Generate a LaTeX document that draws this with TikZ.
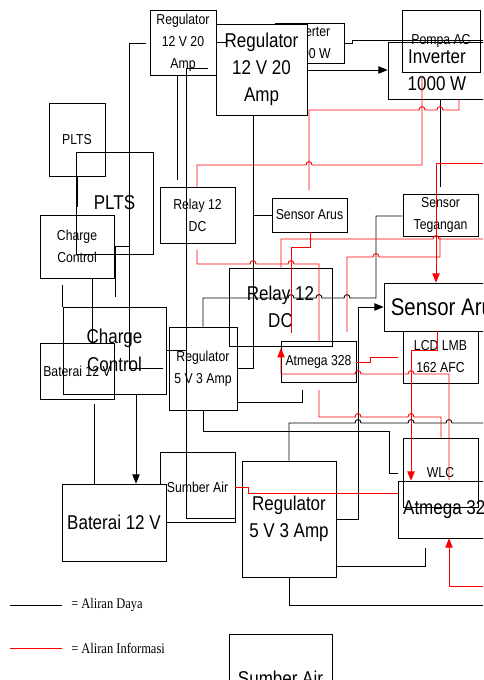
\documentclass[tikz,border=0pt]{standalone}
\usepackage{fontspec}
\setmainfont{Liberation Serif}[FakeStretch=0.85]
\newfontfamily\arialn{Liberation Sans}[FakeStretch=0.85]
\usetikzlibrary{arrows.meta}

\tikzset{
  kecil/.style={font=\arialn\fontsize{10.8}{16.5}\selectfont},
  besar/.style={font=\arialn\fontsize{15}{20.5}\selectfont},
  kotak/.style 2 args={draw, minimum width=#1*0.75pt, minimum height=#2*0.75pt,
    inner sep=0pt, align=center},
  daya/.style={draw=black, line width=0.7pt},
  info/.style={draw=red, line width=0.7pt},
  legenda/.style={font=\rmfamily\fontsize{11}{13}\selectfont, inner sep=0pt},
  % lompatan kabel (ke kanan / ke kiri)
  hopka/.style 2 args={insert path={-- (#1-3,#2) .. controls (#1-3,#2-4.5) and (#1+3,#2-4.5) .. (#1+3,#2)}},
  hopki/.style 2 args={insert path={-- (#1+3,#2) .. controls (#1+3,#2-4.5) and (#1-3,#2-4.5) .. (#1-3,#2)}},
}

\begin{document}
\begin{tikzpicture}[x=0.75pt, y=-0.75pt, >={Triangle[length=7pt,width=5.5pt]}]
  \useasboundingbox (0,0) rectangle (483,680);
  \clip (0,0) rectangle (483,680);
  %% kotak kecil
  \node[kotak={66}{65}, kecil] (reg12k) at (183,42.5) {Regulator\\12 V 20\\Amp};
  \node[kotak={69}{40}, kecil] (invk) at (309.5,43) {Inverter\\1000 W};
  \node[kotak={78}{62}, kecil] (pompa) at (441,41) {Pompa AC};
  \node[kotak={56}{73}, kecil] (pltsk) at (77,139.5) {PLTS};
  \node[kotak={74}{63}, kecil] (cck) at (77,246.5) {Charge\\Control};
  \node[kotak={74}{56}, kecil] (batk) at (77,371) {Baterai 12 V};
  \node[kotak={75}{56}, kecil] (relayk) at (197.5,215) {Relay 12\\DC};
  \node[kotak={75}{34}, kecil] (sak) at (309.5,215) {Sensor Arus};
  \node[kotak={75}{42}, kecil] (stk) at (440.5,215) {Sensor\\Tegangan};
  \node[kotak={75}{52}, kecil] (lcd) at (440.5,357) {LCD LMB\\162 AFC};
  \node[kotak={68}{83}, kecil] (reg5k) at (203,368.5) {Regulator\\5 V 3 Amp};
  \node[kotak={75}{41}, kecil] (atmk) at (318.5,361.5) {Atmega 328};
  \node[kotak={75}{69}, kecil] (wlc) at (440.5,472.5) {WLC};
  \node[kotak={75}{70}] (sumberk) at (197.5,487) {};
  %% kotak besar
  \node[kotak={91}{91}, besar, fill=white] (reg12b) at (261.5,69.5) {Regulator\\12 V 20\\Amp};
  \node[kotak={98}{57}, besar] (invb) at (437,70.5) {Inverter\\1000 W};
  \node[kotak={77}{102}, besar] (pltsb) at (114.5,203) {PLTS};
  \node[kotak={103}{87}, besar] (ccb) at (114.5,350.5) {Charge\\Control};
  \node[kotak={104}{77}, besar, fill=white] (batb) at (114,522.5) {Baterai 12 V};
  \node[kotak={103}{78}, besar] (relayb) at (280.5,307) {Relay 12\\DC};
  \node[kotak={126}{48}, besar, font=\arialn\fontsize{18}{21}\selectfont] (sab) at (447,307) {Sensor Arus};
  \node[kotak={94}{116}, besar] (reg5b) at (289,519) {Regulator\\5 V 3 Amp};
  \node[kotak={102}{57}, besar] (atmb) at (449,509.5) {Atmega 328};
  \node[kotak={103}{88}, besar] (sumberb) at (280.5,678) {Sumber Air};
  \node[kecil] (sumberteks) at (sumberk) {Sumber Air};

  %% aliran daya
  \draw[daya] (reg12k.east) -- (227,42.5);
  \draw[daya] (146,43) -- (129,43) -- (129,368) -- (163,368);
  \draw[daya] (177,0 |- reg12k.south) -- (177,180);
  \draw[daya] (208,68) -- (186,68) -- (186,518) -- (sumberk.east |- 0,518);
  \draw[daya] (253,0 |- reg12b.south) -- (253,368) -- (reg5k.east |- 0,368);
  \draw[daya,->] (reg12b.east |- 0,70) -- (invb.west |- 0,70);
  \draw[daya] (invk.east) -- (352,43) -- (352,40) -- (483,40);
  \draw[daya] (440,0 |- invb.south) -- (440,187);
  \draw[daya] (stk.west |- 0,216) -- (376,216) -- (376,298) [hopki={347}{298}]
    [hopki={319}{298}] [hopki={291}{298}] -- (203,298) -- (203,0 |- reg5k.north);
  \draw[daya] (sak.west) -- (253,0 |- sak.west);
  \draw[daya,->] (reg5b.east |- 0,519) -- (358,519) -- (358,307) -- (sab.west |- 0,307);
  \draw[daya] (reg5b.east |- 0,566) -- (425,566) -- (425,548);
  \draw[daya] (289,0 |- reg5b.south) -- (289,605) -- (483,605);
  \draw[daya] (289,0 |- reg5b.north) -- (289,423) [hopka={358}{423}]
    [hopka={411}{423}] [hopka={449}{423}] -- (483,423);
  \draw[daya] (203,0 |- reg5k.south) -- (203,431) -- (389,431) -- (389,473) -- (atmb.west |- 0,473);
  \draw[daya] (reg5k.east |- 0,402) -- (302,402) -- (302,390);
  \draw[daya] (ccb.east |- 0,350) -- (186,350);
  \draw[daya,->] (136,0 |- ccb.south) -- (136,0 |- batb.north);
  \draw[daya] (94,404) -- (94,0 |- batb.north);
  \draw[daya] (92,0 |- cck.south) -- (92,0 |- batk.north);
  \draw[daya] (115,297) -- (115,246) -- (129,246);
  \draw[daya] (77,0 |- pltsk.south) -- (77,207);
  \draw[daya] (62,285) -- (62,0 |- ccb.north);

  %% aliran informasi
  \draw[info] (459,0 |- invb.south) -- (459,110) [hopki={440}{110}] [hopki={422}{110}]
    -- (309,110) -- (309,190);
  \draw[info] (197,0 |- relayk.north) -- (197,165) [hopka={309}{165}] -- (422,165) -- (422,78);
  \draw[info,->] (483,163) -- (436,163) -- (436,0 |- sab.north);
  \draw[info] (483,239) [hopki={436}{239}] -- (281,239) -- (281,0 |- relayb.north);
  \draw[info] (310,0 |- sak.south) -- (310,247) -- (291,247) -- (291,333);
  \draw[info] (197,250) -- (197,264) [hopka={253}{264}] [hopka={291}{264}]
    -- (319,264) -- (319,0 |- atmk.north);
  \draw[info] (440,0 |- stk.south) -- (440,257) [hopki={376}{257}] -- (347,257) -- (347,332);
  \draw[info,->] (449,480) -- (449,374) [hopki={411}{374}] [hopki={358}{374}]
    -- (281,374) -- (281,348);
  \draw[info] (atmk.east |- 0,362) -- (370,362) -- (370,357) -- (398,357);
  \draw[info,->] (437,0 |- sab.south) -- (437,350) -- (411,350) -- (411,0 |- atmb.north);
  \draw[info] (319,390) -- (319,417) [hopka={358}{417}] [hopka={411}{417}]
    -- (441,417) -- (441,0 |- wlc.north);
  \draw[info] (sumberk.east |- 0,487) -- (248,487) -- (248,493) -- (atmb.west |- 0,493);
  \draw[info,->] (483,586) -- (449,586) -- (449,0 |- atmb.south);

  %% keterangan
  \coordinate (ld1) at (10,605);
  \coordinate (ld2) at (62,605);
  \coordinate (li1) at (10,648);
  \coordinate (li2) at (62,648);
  \draw[daya] (ld1) -- (ld2);
  \draw[info] (li1) -- (li2);
  \node[legenda, anchor=west] (tdaya) at (71,605) {= Aliran Daya};
  \node[legenda, anchor=west] (tinfo) at (71,648) {= Aliran Informasi};
\end{tikzpicture}
\end{document}
